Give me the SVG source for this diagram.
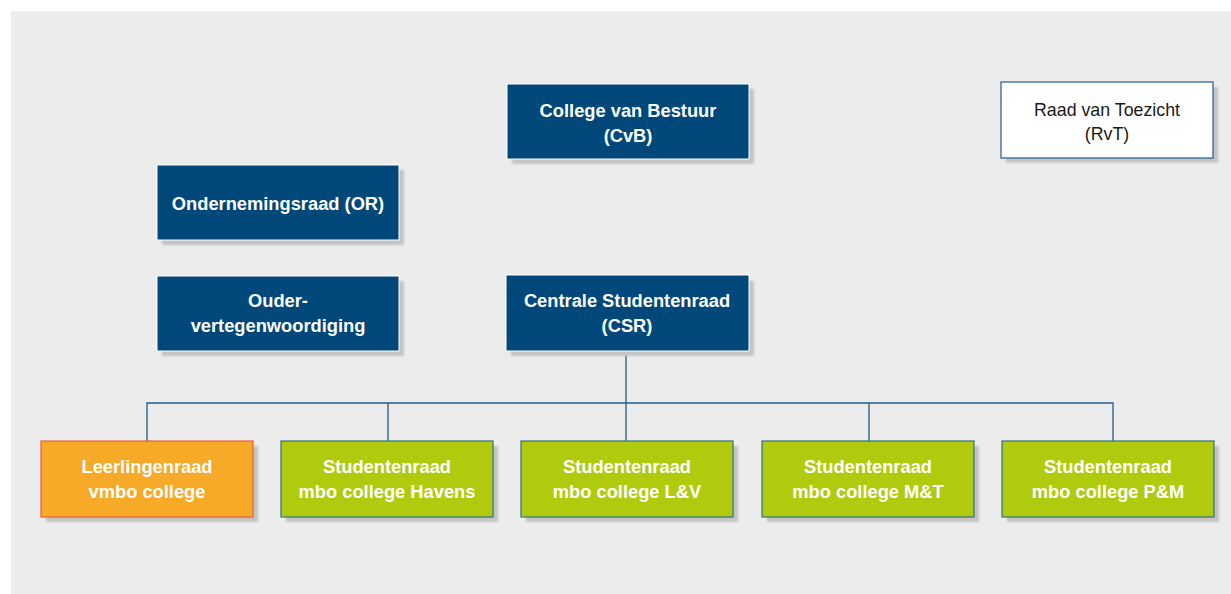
<svg xmlns="http://www.w3.org/2000/svg" width="1231" height="594" viewBox="0 0 1231 594">
<defs>
<filter id="sh" x="-10%" y="-10%" width="130%" height="140%"><feGaussianBlur stdDeviation="1"/></filter>
<style>
.shadow{fill:#c4c4c4;filter:url(#sh)}
.blue{fill:#00487a;stroke:#ffffff;stroke-width:1}
.white{fill:#ffffff;stroke:#1f5c8c;stroke-width:1.2}
.orange{fill:#f7a928;stroke:#e8613a;stroke-width:1.2}
.green{fill:#b0cb0e;stroke:#2b7383;stroke-width:1.2}
text{font-family:"Liberation Sans",Arial,sans-serif;font-size:18.3px;text-anchor:middle}
.wt{fill:#ffffff;font-weight:bold}
.dt{fill:#1a1a1a;font-size:17.8px}
.conn{fill:none;stroke:#1f5c8c;stroke-width:1.3}
</style>
</defs>
<rect x="11" y="11" width="1220" height="583" fill="#ececec"/>
<g id="connectors">
<path class="conn" d="M626 351 V403 M147 441 V403 H1113 V441 M388 403 V441 M626 403 V441 M869 403 V441"/>
</g>
<g id="cvb">
<rect class="shadow" x="512" y="89" width="242" height="75"/>
<rect class="blue" x="507" y="84" width="242" height="75"/>
<text class="wt" x="628" y="117">College van Bestuur</text>
<text class="wt" x="628" y="142">(CvB)</text>
</g>
<g id="rvt">
<rect class="shadow" x="1006" y="87" width="212" height="76"/>
<rect class="white" x="1001" y="82" width="212" height="76"/>
<text class="dt" x="1107" y="116">Raad van Toezicht</text>
<text class="dt" x="1107" y="140">(RvT)</text>
</g>
<g id="or">
<rect class="shadow" x="162" y="170" width="242" height="75"/>
<rect class="blue" x="157" y="165" width="242" height="75"/>
<text class="wt" x="278" y="210">Ondernemingsraad (OR)</text>
</g>
<g id="ouder">
<rect class="shadow" x="162" y="281" width="242" height="75"/>
<rect class="blue" x="157" y="276" width="242" height="75"/>
<text class="wt" x="278" y="307">Ouder-</text>
<text class="wt" x="278" y="332">vertegenwoordiging</text>
</g>
<g id="csr">
<rect class="shadow" x="511" y="281" width="243" height="75"/>
<rect class="blue" x="506" y="275" width="243" height="76"/>
<text class="wt" x="627" y="307">Centrale Studentenraad</text>
<text class="wt" x="627" y="332">(CSR)</text>
</g>
<g id="vmbo">
<rect class="shadow" x="46" y="446" width="212" height="76"/>
<rect class="orange" x="41" y="441" width="212" height="76"/>
<text class="wt" x="147" y="473">Leerlingenraad</text>
<text class="wt" x="147" y="498">vmbo college</text>
</g>
<g id="havens">
<rect class="shadow" x="286" y="446" width="212" height="76"/>
<rect class="green" x="281" y="441" width="212" height="76"/>
<text class="wt" x="387" y="473">Studentenraad</text>
<text class="wt" x="387" y="498">mbo college Havens</text>
</g>
<g id="lv">
<rect class="shadow" x="526" y="446" width="212" height="76"/>
<rect class="green" x="521" y="441" width="212" height="76"/>
<text class="wt" x="627" y="473">Studentenraad</text>
<text class="wt" x="627" y="498">mbo college L&amp;V</text>
</g>
<g id="mt">
<rect class="shadow" x="767" y="446" width="212" height="76"/>
<rect class="green" x="762" y="441" width="212" height="76"/>
<text class="wt" x="868" y="473">Studentenraad</text>
<text class="wt" x="868" y="498">mbo college M&amp;T</text>
</g>
<g id="pm">
<rect class="shadow" x="1007" y="446" width="212" height="76"/>
<rect class="green" x="1002" y="441" width="212" height="76"/>
<text class="wt" x="1108" y="473">Studentenraad</text>
<text class="wt" x="1108" y="498">mbo college P&amp;M</text>
</g>
</svg>
